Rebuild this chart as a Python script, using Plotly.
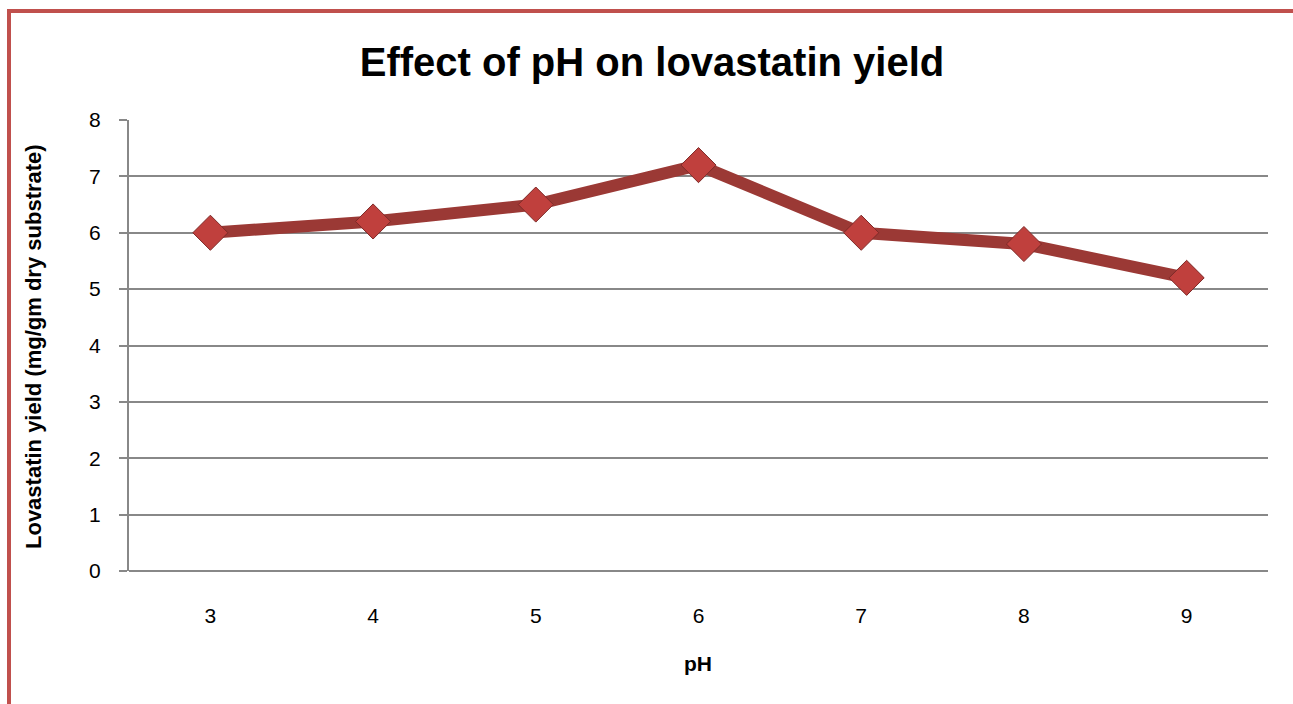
import plotly.graph_objects as go

ph_levels = ["3", "4", "5", "6", "7", "8", "9"]
yield_values = [6.0, 6.2, 6.5, 7.2, 6.0, 5.8, 5.2]
y_ticks = [0, 1, 2, 3, 4, 5, 6, 7, 8]

FONT = "Liberation Sans"

fig = go.Figure()
fig.add_trace(go.Scatter(
    x=ph_levels, y=yield_values, mode="lines+markers",
    line=dict(color="#9B3935", width=12),
    marker=dict(symbol="diamond", size=27, color="#C0403D",
                line=dict(color="#7E2A28", width=1)),
    showlegend=False, hoverinfo="x+y",
))

L, R, T, B = 129, 1268, 120, 571
W, H = 1293, 704
pw, ph = R - L, B - T

def px(x):
    return (x - L) / pw

def py(y):
    return (B - y) / ph

fig.update_layout(
    width=W, height=H,
    margin=dict(l=L, r=W - R, t=T, b=H - B, pad=0),
    paper_bgcolor="white", plot_bgcolor="white",
    font=dict(family=FONT, color="black", size=21),
    title=dict(text="<b>Effect of pH on lovastatin yield</b>",
               font=dict(family=FONT, size=40, color="black"),
               x=652 / W, xanchor="center", y=1 - 62 / H, yanchor="middle",
               xref="container", yref="container"),
    xaxis=dict(type="category", range=[-0.5, 6.5], showgrid=False,
               showline=False, ticks="", tickfont=dict(size=21),
               ticklabelstandoff=30, fixedrange=True),
    yaxis=dict(range=[0, 8], tickvals=y_ticks, showgrid=True,
               gridcolor="#888888", gridwidth=2, zeroline=True,
               zerolinecolor="#888888", zerolinewidth=2,
               showline=True, linecolor="#888888", linewidth=2,
               ticks="outside", ticklen=8, tickcolor="#888888", tickwidth=2,
               tickfont=dict(size=21), ticklabelstandoff=14, fixedrange=True),
    annotations=[
        dict(text="<b>Lovastatin yield (mg/gm dry substrate)</b>",
             xref="paper", yref="paper", x=px(33), y=py(347),
             xanchor="center", yanchor="middle", textangle=-90,
             showarrow=False, font=dict(size=22, family=FONT)),
        dict(text="<b>pH</b>", xref="paper", yref="paper",
             x=px(698), y=py(663), xanchor="center", yanchor="middle",
             showarrow=False, font=dict(size=21, family=FONT)),
    ],
    shapes=[
        dict(type="path", xref="paper", yref="paper",
             path=f"M {px(9)} {py(720)} L {px(9)} {py(11)} L {px(1310)} {py(11)}",
             line=dict(color="#C0504D", width=4), layer="above"),
    ],
)

fig.write_html("out.html", config={"displayModeBar": False},
               post_script="document.body.style.margin='0';document.body.style.overflow='hidden';")
